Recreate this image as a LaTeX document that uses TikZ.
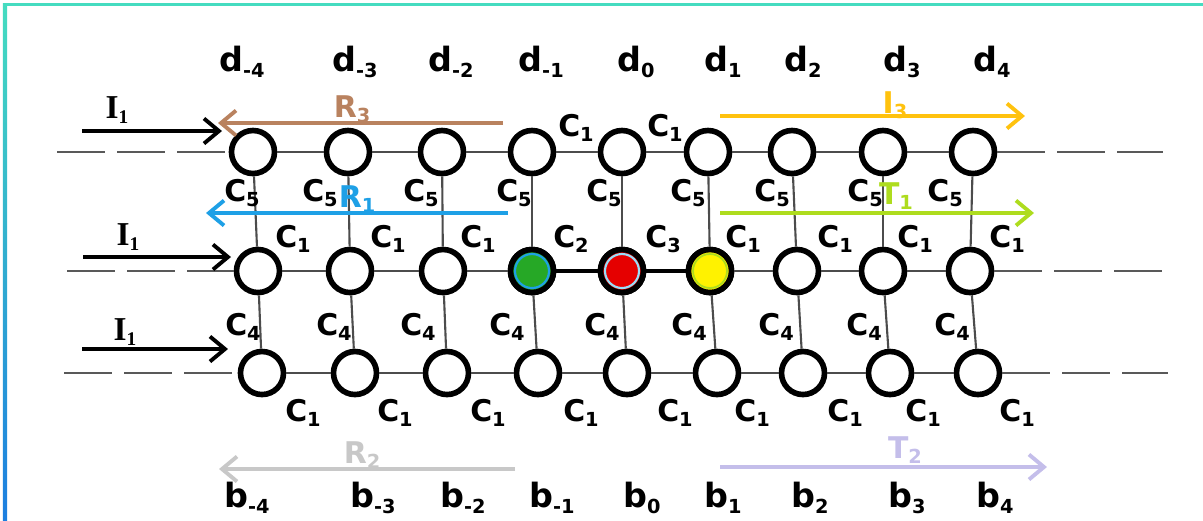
\documentclass[tikz,border=0pt]{standalone}
\usepackage{fontspec}
\setmainfont{DejaVu Sans}
\newfontfamily\serifb{Liberation Serif}
\usetikzlibrary{arrows.meta}

\definecolor{brownR}{HTML}{B9825F}
\definecolor{blueR}{HTML}{1EA0E6}
\definecolor{grayR}{HTML}{C8C8C8}
\definecolor{goldI}{HTML}{FFC20E}
\definecolor{limeT}{HTML}{AEDC1E}
\definecolor{lilacT}{HTML}{C4BEEA}
\definecolor{frameA}{HTML}{45DCC0}
\definecolor{frameB}{HTML}{1C7EE0}

\newcommand{\lab}[2]{#1\raisebox{-0.3ex}{\fontsize{5.5}{6}\selectfont #2}}

\tikzset{
  cell/.style={circle, draw=black, line width=1.6pt, fill=white,
    minimum size=0.43cm, inner sep=0pt},
  link/.style={draw=black!70, line width=0.6pt},
  tail/.style={draw=black!65, line width=0.7pt, dash pattern=on 4.8mm off 1.2mm},
  flow/.style={line width=0.9pt,
    -{Straight Barb[length=1.5mm,width=2.5mm,line width=1.1pt]}},
  tag/.style={font=\fontsize{8.5}{9}\selectfont\bfseries, inner sep=0pt},
  big/.style={font=\fontsize{9.5}{10}\selectfont\bfseries, inner sep=0pt},
  inc/.style={font=\fontsize{9.5}{10}\selectfont\serifb\bfseries, inner sep=0pt},
}

\begin{document}
\begin{tikzpicture}[x=0.01cm, y=-0.01cm]

    \useasboundingbox (0,0) rectangle (1203,520);

    % рамка
    \fill[frameA] (4,3) rectangle (1203,6);
    \shade[top color=frameA, bottom color=frameB] (3,3) rectangle (7,520);

    % узлы решётки
    \foreach \i/\xt/\xm/\xb in {1/253/258/262, 2/348/350/355, 3/442/443/447,
        4/532/532/538, 5/622/622/627, 6/708/710/717, 7/792/797/803,
        8/883/883/890, 9/973/970/978} {
      \node[cell] (t\i) at (\xt,152) {};
      \node[cell] (m\i) at (\xm,271) {};
      \node[cell] (b\i) at (\xb,373) {};
    }

    % цветные узлы
    \node[cell, fill=green!60!black!85] (m4) at (532,271) {};
    \node[cell, fill=red!90!black] (m5) at (622,271) {};
    \node[cell, fill=yellow] (m6) at (710,271) {};
    \draw[blueR, line width=0.6pt] (m4) circle (17);
    \draw[cyan!40, line width=0.6pt] (m5) circle (17);
    \draw[limeT, line width=0.5pt] (m6) circle (17);

    % связи
    \foreach \i [evaluate=\i as \j using int(\i+1)] in {1,...,8} {
      \draw[link] (t\i) -- (t\j);
      \draw[link] (b\i) -- (b\j);
    }
    \foreach \i [evaluate=\i as \j using int(\i+1)] in {1,2,3,6,7,8}
      \draw[link] (m\i) -- (m\j);
    \draw[black, line width=1pt] (m4) -- (m5) -- (m6);
    \foreach \i in {1,...,9} {
      \draw[link] (t\i) -- (m\i);
      \draw[link] (m\i) -- (b\i);
    }

    % продолжение цепочек
    \coordinate (tl) at (57,152);
    \coordinate (ml) at (67,271);
    \coordinate (bl) at (64,373);
    \coordinate (tr) at (1163,152);
    \coordinate (mr) at (1165,271);
    \coordinate (br) at (1168,373);
    \draw[tail] (tl) -- (t1);
    \draw[tail] (ml) -- (m1);
    \draw[tail] (bl) -- (b1);
    \draw[tail] (t9) -- (tr);
    \draw[tail] (m9) -- (mr);
    \draw[tail] (b9) -- (br);

    % падающие волны
    \coordinate (i1a) at (82,131);
    \coordinate (i1b) at (222,131);
    \coordinate (i2a) at (83,257);
    \coordinate (i2b) at (231,257);
    \coordinate (i3a) at (82,349);
    \coordinate (i3b) at (228,349);
    \draw[flow, line width=1.3pt] (i1a) -- (i1b);
    \draw[flow, line width=1.3pt] (i2a) -- (i2b);
    \draw[flow, line width=1.3pt] (i3a) -- (i3b);
    \node[inc] (inc1) at (117,110) {\lab{I}{1}};
    \node[inc] (inc2) at (128,237) {\lab{I}{1}};
    \node[inc] (inc3) at (125,332) {\lab{I}{1}};

    % отражённые и прошедшие волны
    \coordinate (r3a) at (503,123);
    \coordinate (r3b) at (218,123);
    \coordinate (r1a) at (508,213);
    \coordinate (r1b) at (206,213);
    \coordinate (r2a) at (515,469);
    \coordinate (r2b) at (219,469);
    \coordinate (i3s) at (720,116);
    \coordinate (i3e) at (1025,116);
    \coordinate (t1a) at (720,213);
    \coordinate (t1b) at (1034,213);
    \coordinate (t2a) at (720,467);
    \coordinate (t2b) at (1047,467);
    \draw[flow, brownR] (r3a) -- (r3b);
    \draw[flow, blueR] (r1a) -- (r1b);
    \draw[flow, grayR] (r2a) -- (r2b);
    \draw[flow, goldI] (i3s) -- (i3e);
    \draw[flow, limeT] (t1a) -- (t1b);
    \draw[flow, lilacT] (t2a) -- (t2b);
    \node[tag, brownR] (lr3) at (352,109) {\lab{R}{3}};
    \node[tag, blueR] (lr1) at (357,199) {\lab{R}{1}};
    \node[tag, grayR] (lr2) at (362,455) {\lab{R}{2}};
    \node[tag, goldI] (li3) at (895,105) {\lab{I}{3}};
    \node[tag, limeT] (lt1) at (896,196) {\lab{T}{1}};
    \node[tag, lilacT] (lt2) at (905,450) {\lab{T}{2}};

    % подписи узлов
    \foreach \i/\x/\n in {1/242/-4, 2/355/-3, 3/451/-2, 4/541/-1, 5/636/0,
        6/723/1, 7/803/2, 8/902/3, 9/992/4}
      \node[big] (d\i) at (\x,62) {\lab{d}{\n}};
    \foreach \i/\x/\n in {1/247/-4, 2/373/-3, 3/463/-2, 4/552/-1, 5/642/0,
        6/723/1, 7/810/2, 8/907/3, 9/995/4}
      \node[big] (lb\i) at (\x,498) {\lab{b}{\n}};

    % связи C
    \node[tag] (ca1) at (576,128) {\lab{C}{1}};
    \node[tag] (ca2) at (665,128) {\lab{C}{1}};
    \foreach \i/\x in {1/242, 2/320, 3/421, 4/514, 5/604, 6/688, 7/772, 8/865, 9/945}
      \node[tag] (cf\i) at (\x,193) {\lab{C}{5}};
    \foreach \i/\x/\n in {1/293/1, 2/388/1, 3/478/1, 4/571/2, 5/663/3,
        6/743/1, 7/835/1, 8/915/1, 9/1007/1}
      \node[tag] (cm\i) at (\x,239) {\lab{C}{\n}};
    \foreach \i/\x in {1/243, 2/334, 3/418, 4/507, 5/602, 6/689, 7/776, 8/864, 9/952}
      \node[tag] (cv\i) at (\x,327) {\lab{C}{4}};
    \foreach \i/\x in {1/303, 2/395, 3/488, 4/581, 5/675, 6/752, 7/845, 8/923, 9/1017}
      \node[tag] (cb\i) at (\x,413) {\lab{C}{1}};

\end{tikzpicture}
\end{document}
